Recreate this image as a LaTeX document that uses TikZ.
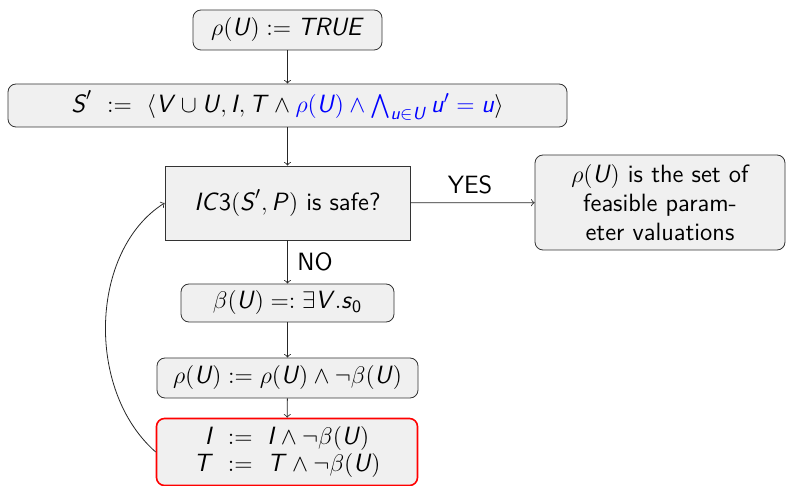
\documentclass[tikz,border=0pt]{standalone}
\usepackage{amsmath}
\usepackage{xcolor}
\newcommand\mi[1]{\text{\sffamily\itshape #1\/}}
\definecolor{boxfill}{HTML}{F0F0F0}
\definecolor{boxdraw}{HTML}{333333}
\begin{document}
\begin{tikzpicture}[x=0.5pt,y=-0.5pt,
  every node/.style={font=\sffamily\fontsize{12.5}{14.5}\selectfont},
  rbox/.style={draw=boxdraw,fill=boxfill,rounded corners=4pt,inner sep=0pt,align=center},
  sbox/.style={draw=boxdraw,fill=boxfill,inner sep=0pt,align=center},
  redbox/.style={rbox,draw=red,line width=0.8pt},
  conn/.style={->,draw=black!85}]
\useasboundingbox (0,0) rectangle (793,486);
\node[rbox,minimum width=94.5pt,minimum height=20pt] (b1) at (287.5,30) {$\rho(\mi{U}) := \mi{TRUE}$};
\node[rbox,minimum width=279.5pt,minimum height=21.5pt] (b2) at (287.5,105.5)
  {$\mi{S}'\ :=\ \langle \mi{V}\cup\mi{U}, \mi{I}, \mi{T}\wedge \textcolor{blue}{\rho(\mi{U})\wedge\bigwedge_{\mi{u}\in\mi{U}}\mi{u}'=\mi{u}}\rangle$};
\node[sbox,minimum width=122.5pt,minimum height=37pt] (b3) at (287.5,203) {$\mi{IC}\text{\sffamily 3}(\mi{S}', \mi{P})$ is safe?};
\node[rbox,minimum width=125pt,minimum height=47.5pt] (b4) at (660,202.5) {$\rho(\mi{U})$ is the set of\\feasible param-\\eter valuations};
\node[rbox,minimum width=106.5pt,minimum height=19pt] (b5) at (287.5,303) {$\beta(\mi{U}) =: \exists \mi{V}.\mi{s}_{\text{\sffamily 0}}$};
\node[rbox,minimum width=130.5pt,minimum height=20pt] (b6) at (287.5,378) {$\rho(\mi{U}) := \rho(\mi{U})\wedge\neg\beta(\mi{U})$};
\node[redbox,minimum width=130.5pt,minimum height=33.5pt,font=\sffamily\fontsize{12.5}{13.5}\selectfont] (b7) at (287,452)
  {$\mi{I}\ :=\ \mi{I}\wedge\neg\beta(\mi{U})$\\$\mi{T}\ :=\ \mi{T}\wedge\neg\beta(\mi{U})$};
\node (yes) at (470,185) {YES};
\node[anchor=west,inner sep=0pt] (no) at (297,262) {NO};
\draw[conn] (b1) -- (b2);
\draw[conn] (b2) -- (b3);
\draw[conn] (b3) -- (b4);
\draw[conn] (b3) -- (b5);
\draw[conn] (b5) -- (b6);
\draw[conn] (b6) -- (b7);
\draw[conn] (b7.west) .. controls (85,390) and (90,250) .. (b3.west);
\end{tikzpicture}
\end{document}
